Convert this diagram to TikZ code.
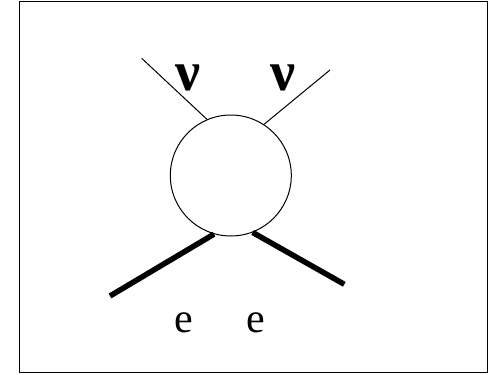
\documentclass[tikz,border=0pt]{standalone}
\usepackage{fontspec}
\setmainfont{Liberation Serif}
\begin{document}
\begin{tikzpicture}[x=1pt,y=-1pt,
  thinleg/.style={line width=1pt},
  thickleg/.style={line width=5.5pt},
  nulabel/.style={font=\fontsize{56}{56}\selectfont\bfseries, inner sep=0pt},
  elabel/.style={font=\fontsize{42}{42}\selectfont, inner sep=0pt}]
\useasboundingbox (0,0) rectangle (488,375);
\node[draw, line width=1.5pt, minimum width=468.5pt, minimum height=371pt, inner sep=0pt, anchor=north west] (frame) at (18.75,0.75) {};
\node[draw, circle, line width=1pt, minimum size=121pt, inner sep=0pt] (blob) at (230.8,175.5) {};
\coordinate (nu1) at (141.7,58.3);
\coordinate (nu2) at (330,70);
\coordinate (e1) at (110,296);
\coordinate (e2) at (344.3,284.3);
\draw[thinleg] (nu1) -- (blob.113.7);
\draw[thinleg] (nu2) -- (blob.57);
\draw[thickleg] (e1) -- (blob.254.7);
\draw[thickleg] (e2) -- (blob.291.8);
\node[nulabel] (lnu1) at (188,78) {ν};
\node[nulabel] (lnu2) at (283,78) {ν};
\node[elabel] (le1) at (183.5,323) {e};
\node[elabel] (le2) at (256,323) {e};
\end{tikzpicture}
\end{document}
